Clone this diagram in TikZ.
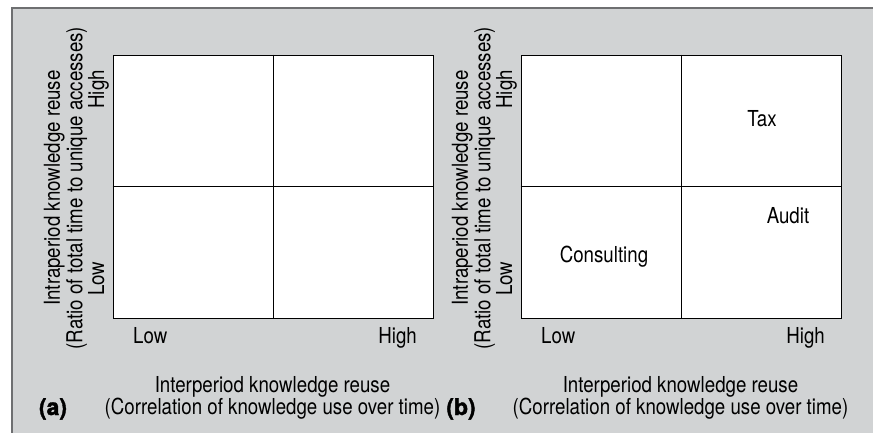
\documentclass[tikz,border=0pt]{standalone}
\usepackage{fontspec}
\setmainfont[FakeStretch=0.85]{TeX Gyre Heros}
\newfontfamily\tagfont[BoldFeatures={FakeBold=1.6}]{TeX Gyre Heros}
\definecolor{panelgrey}{RGB}{209,211,212}
\definecolor{rulegrey}{RGB}{110,111,113}

\begin{document}
\begin{tikzpicture}[x=1pt,y=-1pt,
	txt/.style={inner sep=0pt,font=\fontsize{22}{22.5}\selectfont},
	quad/.style={draw=black,line width=0.9pt,fill=white,minimum width=320pt,minimum height=263pt,inner sep=0pt}]
	\useasboundingbox (0,0) rectangle (873,433);
	% grey panel, darker rule on top and left
	\fill[panelgrey] (12,8) rectangle (873,433);
	\draw[rulegrey,line width=2pt] (12,433) -- (12,8) -- (873,8);
	% the two 2x2 grids with their axes
	\foreach \p/\dx in {a/0,b/408}{
		\begin{scope}[xshift=\dx pt]
			\node[quad] (box\p) at (273,186.5) {};
			\draw[line width=0.9pt] (box\p.north) -- (box\p.south);
			\draw[line width=0.9pt] (box\p.west) -- (box\p.east);
			\node[txt,anchor=base west] (xlo\p) at (133,343) {Low};
			\node[txt,anchor=base east] (xhi\p) at (417,343) {High};
			\node[txt,align=center] (xlab\p) at (272.5,398) {Interperiod knowledge reuse\\(Correlation of knowledge use over time)};
			\node[txt,rotate=90,align=center] (ylab\p) at (65.5,188) {Intraperiod knowledge reuse\\(Ratio of total time to unique accesses)};
			\node[txt,rotate=90,anchor=base east] (yhi\p) at (104,70) {High};
			\node[txt,rotate=90,anchor=base west] (ylo\p) at (104,296) {Low};
			\node[inner sep=0pt,font=\fontsize{23}{24}\tagfont\bfseries,anchor=base] (tag\p) at (53,415) {(\p)};
		\end{scope}
	}
	% quadrant entries
	\node[txt,anchor=base] (tax) at (762,127) {Tax};
	\node[txt,anchor=base] (audit) at (788,223) {Audit};
	\node[txt,anchor=base] (consult) at (604,262) {Consulting};
\end{tikzpicture}
\end{document}
